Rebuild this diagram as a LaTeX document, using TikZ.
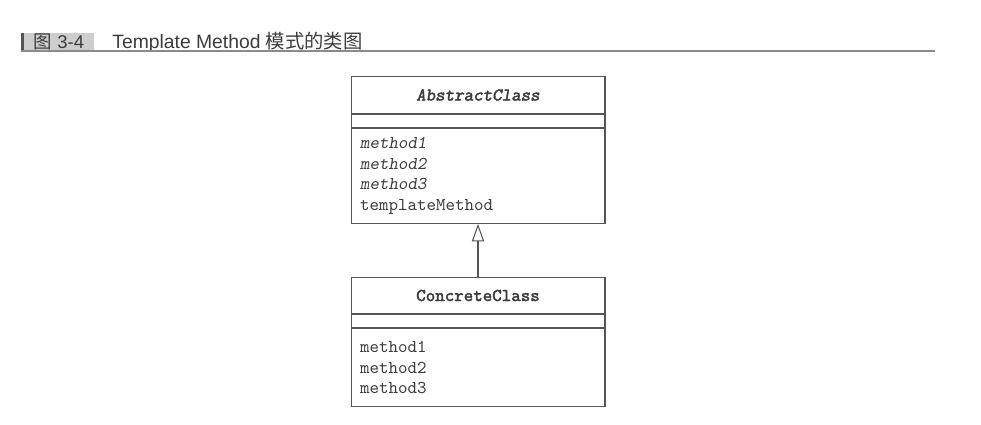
\documentclass[tikz,border=0pt]{standalone}
\usepackage{fontspec}
\setmainfont{Liberation Sans}
\newfontfamily\cjk{Noto Sans CJK SC}
\newfontfamily\monobold{lmmono10-regular.otf}[ItalicFont=lmmonoslant10-regular.otf,FakeBold=2.2]
\usetikzlibrary{arrows.meta,positioning}
\definecolor{linegray}{HTML}{555555}
\definecolor{textgray}{HTML}{3C3C3C}
\definecolor{tabgray}{HTML}{CDCDCD}
\definecolor{rulegray}{HTML}{8A8A8A}

\begin{document}
\begin{tikzpicture}[x=0.02cm,y=-0.02cm,
  classname/.style={draw=linegray,line width=0.6pt,minimum width=5.08cm,minimum height=0.73cm,inner sep=0pt,font=\monobold\fontsize{10.3}{11.7}\selectfont,text=textgray},
  classattr/.style={draw=linegray,line width=0.6pt,minimum width=5.08cm,minimum height=0.26cm,inner sep=0pt},
  classops/.style={draw=linegray,line width=0.6pt,minimum width=5.08cm,text width=4.72cm,inner xsep=0.18cm,inner ysep=0pt,align=left,font=\ttfamily\fontsize{10.3}{11.7}\selectfont,text=textgray},
  inherit/.style={draw=linegray,line width=0.6pt,-{Triangle[open,length=10pt,width=7pt]}},
  tab/.style={fill=tabgray,minimum width=1.4cm,minimum height=0.36cm,inner sep=0pt,font=\fontsize{10.5}{12}\selectfont,text=textgray}]
\useasboundingbox (0,0) rectangle (981,424);
% caption
\fill[linegray] (21,33) rectangle (25,51);
\node[tab] (figno) at (59,42) {{\cjk 图} 3-4};
\node[anchor=west,inner sep=0pt,font=\fontsize{11}{12}\selectfont,text=textgray] (caption) at (112,42) {Template Method {\cjk 模式的类图}};
\draw[rulegray,line width=0.9pt] (21,51) -- (935,51);
% abstract class
\node[classname] (abstract) at (478,95) {\itshape AbstractClass};
\node[classattr,below=0pt of abstract] (abstractattr) {};
\node[classops,minimum height=1.9cm,below=0pt of abstractattr] (abstractops) {\textsl{method1}\\\textsl{method2}\\\textsl{method3}\\templateMethod};
% concrete class
\node[classname] (concrete) at (478,295.5) {ConcreteClass};
\node[classattr,below=0pt of concrete] (concreteattr) {};
\node[classops,minimum height=1.56cm,below=0pt of concreteattr] (concreteops) {method1\\method2\\method3};
\draw[inherit] (concrete) -- (abstractops);
\end{tikzpicture}
\end{document}
